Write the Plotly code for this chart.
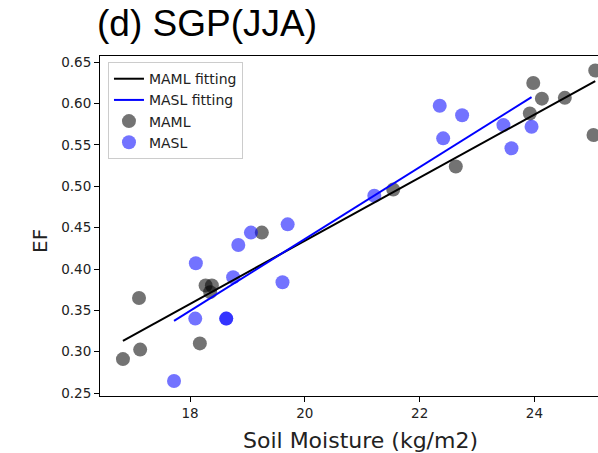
import numpy as np
import plotly.graph_objects as go

# Summer (JJA) soil moisture vs evaporative fraction at SGP
maml_sm = [16.83, 17.11, 17.13, 18.17, 18.27, 18.38, 18.35, 19.25,
           21.54, 22.63, 23.92, 23.98, 24.13, 24.53, 25.03, 25.06]
maml_ef = [0.291, 0.365, 0.3025, 0.310, 0.380, 0.380, 0.372, 0.444,
           0.496, 0.524, 0.588, 0.625, 0.606, 0.607, 0.562, 0.640]

masl_sm = [17.72, 18.09, 18.63, 18.63, 18.10, 18.75, 18.84, 19.06, 19.70,
           19.61, 21.21, 22.35, 22.74, 22.41, 23.46, 23.95, 23.60]
masl_ef = [0.2645, 0.340, 0.340, 0.340, 0.407, 0.390, 0.429, 0.444, 0.454,
           0.384, 0.4885, 0.5975, 0.586, 0.558, 0.574, 0.572, 0.546]

x_ticks = [18, 20, 22, 24]
y_ticks = [0.25, 0.30, 0.35, 0.40, 0.45, 0.50, 0.55, 0.60, 0.65]


def linear_fit(x, y):
    x = np.asarray(x, dtype=float)
    y = np.asarray(y, dtype=float)
    slope, intercept = np.polyfit(x, y, 1)
    xs = np.sort(x)
    return xs, slope * xs + intercept


maml_fx, maml_fy = linear_fit(maml_sm, maml_ef)
masl_fx, masl_fy = linear_fit(masl_sm, masl_ef)

fig = go.Figure()

# scatter first so the fitted lines sit on top
fig.add_trace(go.Scatter(
    x=maml_sm, y=maml_ef, mode="markers", name="MAML", legendrank=3,
    marker=dict(size=14, color="rgba(0,0,0,0.55)", line=dict(width=0)),
))
fig.add_trace(go.Scatter(
    x=masl_sm, y=masl_ef, mode="markers", name="MASL", legendrank=4,
    marker=dict(size=14, color="rgba(0,0,255,0.55)", line=dict(width=0)),
))
fig.add_trace(go.Scatter(
    x=maml_fx, y=maml_fy, mode="lines", name="MAML fitting", legendrank=1,
    line=dict(color="black", width=2),
))
fig.add_trace(go.Scatter(
    x=masl_fx, y=masl_fy, mode="lines", name="MASL fitting", legendrank=2,
    line=dict(color="#0000ff", width=2),
))

tick_font = dict(family="DejaVu Sans", size=13.5, color="#222222")

fig.update_layout(
    width=598, height=453,
    margin=dict(l=100, r=0, t=56, b=57),
    paper_bgcolor="white", plot_bgcolor="white",
    title=dict(
        text="(d) SGP(JJA)", x=97 / 598, xanchor="left",
        y=1 - 10 / 453, yanchor="top",
        font=dict(family="Liberation Sans", size=37, color="black"),
    ),
    legend=dict(
        x=0.016, y=0.982, xanchor="left", yanchor="top",
        bgcolor="rgba(255,255,255,0.8)", bordercolor="#cccccc", borderwidth=1,
        font=dict(family="DejaVu Sans", size=14, color="#222222"),
        traceorder="normal",
    ),
    showlegend=True,
    xaxis=dict(
        range=[16.43, 25.108], tickvals=x_ticks, ticktext=[str(v) for v in x_ticks],
        ticks="outside", ticklen=5, tickcolor="black", tickwidth=1,
        showline=True, linecolor="black", linewidth=1, mirror=True,
        showgrid=False, zeroline=False, tickfont=tick_font,
    ),
    yaxis=dict(
        range=[0.2464, 0.6576], tickvals=y_ticks,
        ticktext=[f"{v:.2f}" for v in y_ticks],
        ticks="outside", ticklen=5, tickcolor="black", tickwidth=1,
        showline=True, linecolor="black", linewidth=1, mirror=False,
        showgrid=False, zeroline=False, tickfont=tick_font,
    ),
    annotations=[
        dict(text="Soil Moisture (kg/m2)", xref="paper", yref="paper",
             x=(360 - 100) / 498, y=(396 - 440) / 340,
             xanchor="center", yanchor="middle", showarrow=False,
             font=dict(family="DejaVu Sans", size=22, color="#222222")),
        dict(text="EF", xref="paper", yref="paper", textangle=-90,
             x=(40 - 100) / 498, y=(396 - 241) / 340,
             xanchor="center", yanchor="middle", showarrow=False,
             font=dict(family="DejaVu Sans", size=20, color="#222222")),
    ],
)

fig.write_html("out.html")
